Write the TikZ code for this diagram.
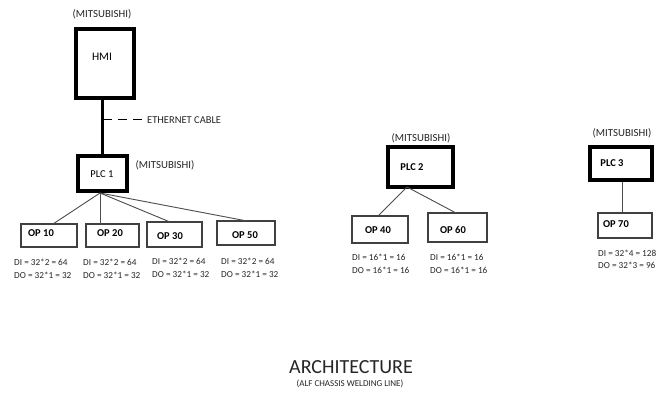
\documentclass[tikz,border=0pt]{standalone}
\usepackage{fontspec}
\setmainfont{Carlito}
\begin{document}
\begin{tikzpicture}[x=1pt,y=-1pt,
  thickbox/.style={draw=black,line width=4pt,inner sep=0pt},
  opbox/.style={draw=black!75,line width=1.1pt,inner sep=0pt},
  wire/.style={draw=black!70,line width=0.9pt},
  mitsu/.style={font=\fontsize{10.8}{12}\selectfont,text=black!85,inner sep=0pt},
  boxtext/.style={font=\fontsize{10.5}{12}\selectfont,inner sep=0pt},
  optext/.style={font=\bfseries\fontsize{10.5}{12}\selectfont,inner sep=0pt},
  io/.style={font=\fontsize{9.2}{13.5}\selectfont,align=left,inner sep=0pt,anchor=north west,text=black!85}]
\useasboundingbox[fill=white] (0,0) rectangle (670,395);
% HMI and PLC1
\node[mitsu] (m0) at (102,14) {(MITSUBISHI)};
\node[thickbox,minimum width=58pt,minimum height=69pt] (hmi) at (105,63.5) {};
\node[boxtext,font=\fontsize{11.5}{12}\selectfont] (thmi) at (102,57) {HMI};
\node[thickbox,minimum width=49pt,minimum height=35pt] (plc1) at (102.5,173.5) {};
\node[boxtext] (tplc1) at (102,174) {PLC 1};
\node[mitsu] (m1) at (165,165) {(MITSUBISHI)};
\draw[line width=3.5pt] (plc1.north |- hmi.south) -- (plc1.north);
\coordinate (d0) at (103,120);
\coordinate (d1) at (143,120);
\draw[line width=1pt,dash pattern=on 9pt off 6pt] (d0) -- (d1);
\node[font=\fontsize{10.5}{12}\selectfont,anchor=west,inner sep=0pt,text=black!85] (eth) at (147,120) {ETHERNET CABLE};
% OP boxes under PLC1
\node[opbox,minimum width=56pt,minimum height=23pt] (op10) at (49,235.5) {};
\node[optext] (t10) at (41,233) {OP 10};
\node[opbox,minimum width=53pt,minimum height=23pt] (op20) at (112.5,235.5) {};
\node[optext] (t20) at (110,233) {OP 20};
\node[opbox,minimum width=55pt,minimum height=25pt] (op30) at (174.5,234.5) {};
\node[optext] (t30) at (170,236) {OP 30};
\node[opbox,minimum width=58pt,minimum height=24pt] (op50) at (246,233) {};
\node[optext] (t50) at (245,235) {OP 50};
\coordinate (p1) at (100,193);
\coordinate (e10) at (53,224);
\coordinate (e20) at (100,224);
\coordinate (e30) at (170,222);
\coordinate (e50) at (247,221);
\draw[wire] (p1) -- (e10);
\draw[wire] (p1) -- (e20);
\draw[wire] (p1) -- (e30);
\draw[wire] (p1) -- (e50);
\node[io] (io10) at (14,258.5) {DI = 32*2 = 64\\DO = 32*1 = 32};
\node[io] (io20) at (83,258.5) {DI = 32*2 = 64\\DO = 32*1 = 32};
\node[io] (io30) at (152,257.5) {DI = 32*2 = 64\\DO = 32*1 = 32};
\node[io] (io50) at (221,257.5) {DI = 32*2 = 64\\DO = 32*1 = 32};
% PLC2
\node[mitsu] (m2) at (421,138) {(MITSUBISHI)};
\node[thickbox,minimum width=65pt,minimum height=40pt] (plc2) at (420.5,167) {};
\node[optext] (tplc2) at (412,167) {PLC 2};
\node[opbox,minimum width=56pt,minimum height=27pt] (op40) at (380,229.5) {};
\node[optext] (t40) at (378,230) {OP 40};
\node[opbox,minimum width=59pt,minimum height=29pt] (op60) at (457.5,227.5) {};
\node[optext] (t60) at (453,230) {OP 60};
\coordinate (p2) at (407,187);
\coordinate (e40) at (378,216);
\coordinate (e60) at (456,213);
\draw[wire] (p2) -- (e40);
\draw[wire] (p2) -- (e60);
\node[io] (io40) at (352,253.5) {DI = 16*1 = 16\\DO = 16*1 = 16};
\node[io] (io60) at (430,253.5) {DI = 16*1 = 16\\DO = 16*1 = 16};
% PLC3
\node[mitsu] (m3) at (622,133) {(MITSUBISHI)};
\node[thickbox,minimum width=62pt,minimum height=33pt] (plc3) at (621,163.5) {};
\node[optext] (tplc3) at (612,163) {PLC 3};
\node[opbox,minimum width=54pt,minimum height=25pt] (op70) at (625,225.5) {};
\node[optext] (t70) at (616,224) {OP 70};
\coordinate (c3) at (622,200);
\draw[wire] (plc3.south -| c3) -- (op70.north -| c3);
\node[io,font=\fontsize{9.2}{12.5}\selectfont] (io70) at (598,249.5) {DI = 32*4 = 128\\DO = 32*3 = 96};
% title
\node[font=\fontsize{20}{22}\selectfont,inner sep=0pt,text=black!85] (title) at (351,367) {ARCHITECTURE};
\node[font=\fontsize{9}{10}\selectfont,inner sep=0pt,text=black!85] (sub) at (350,384) {(ALF CHASSIS WELDING LINE)};
\end{tikzpicture}
\end{document}
